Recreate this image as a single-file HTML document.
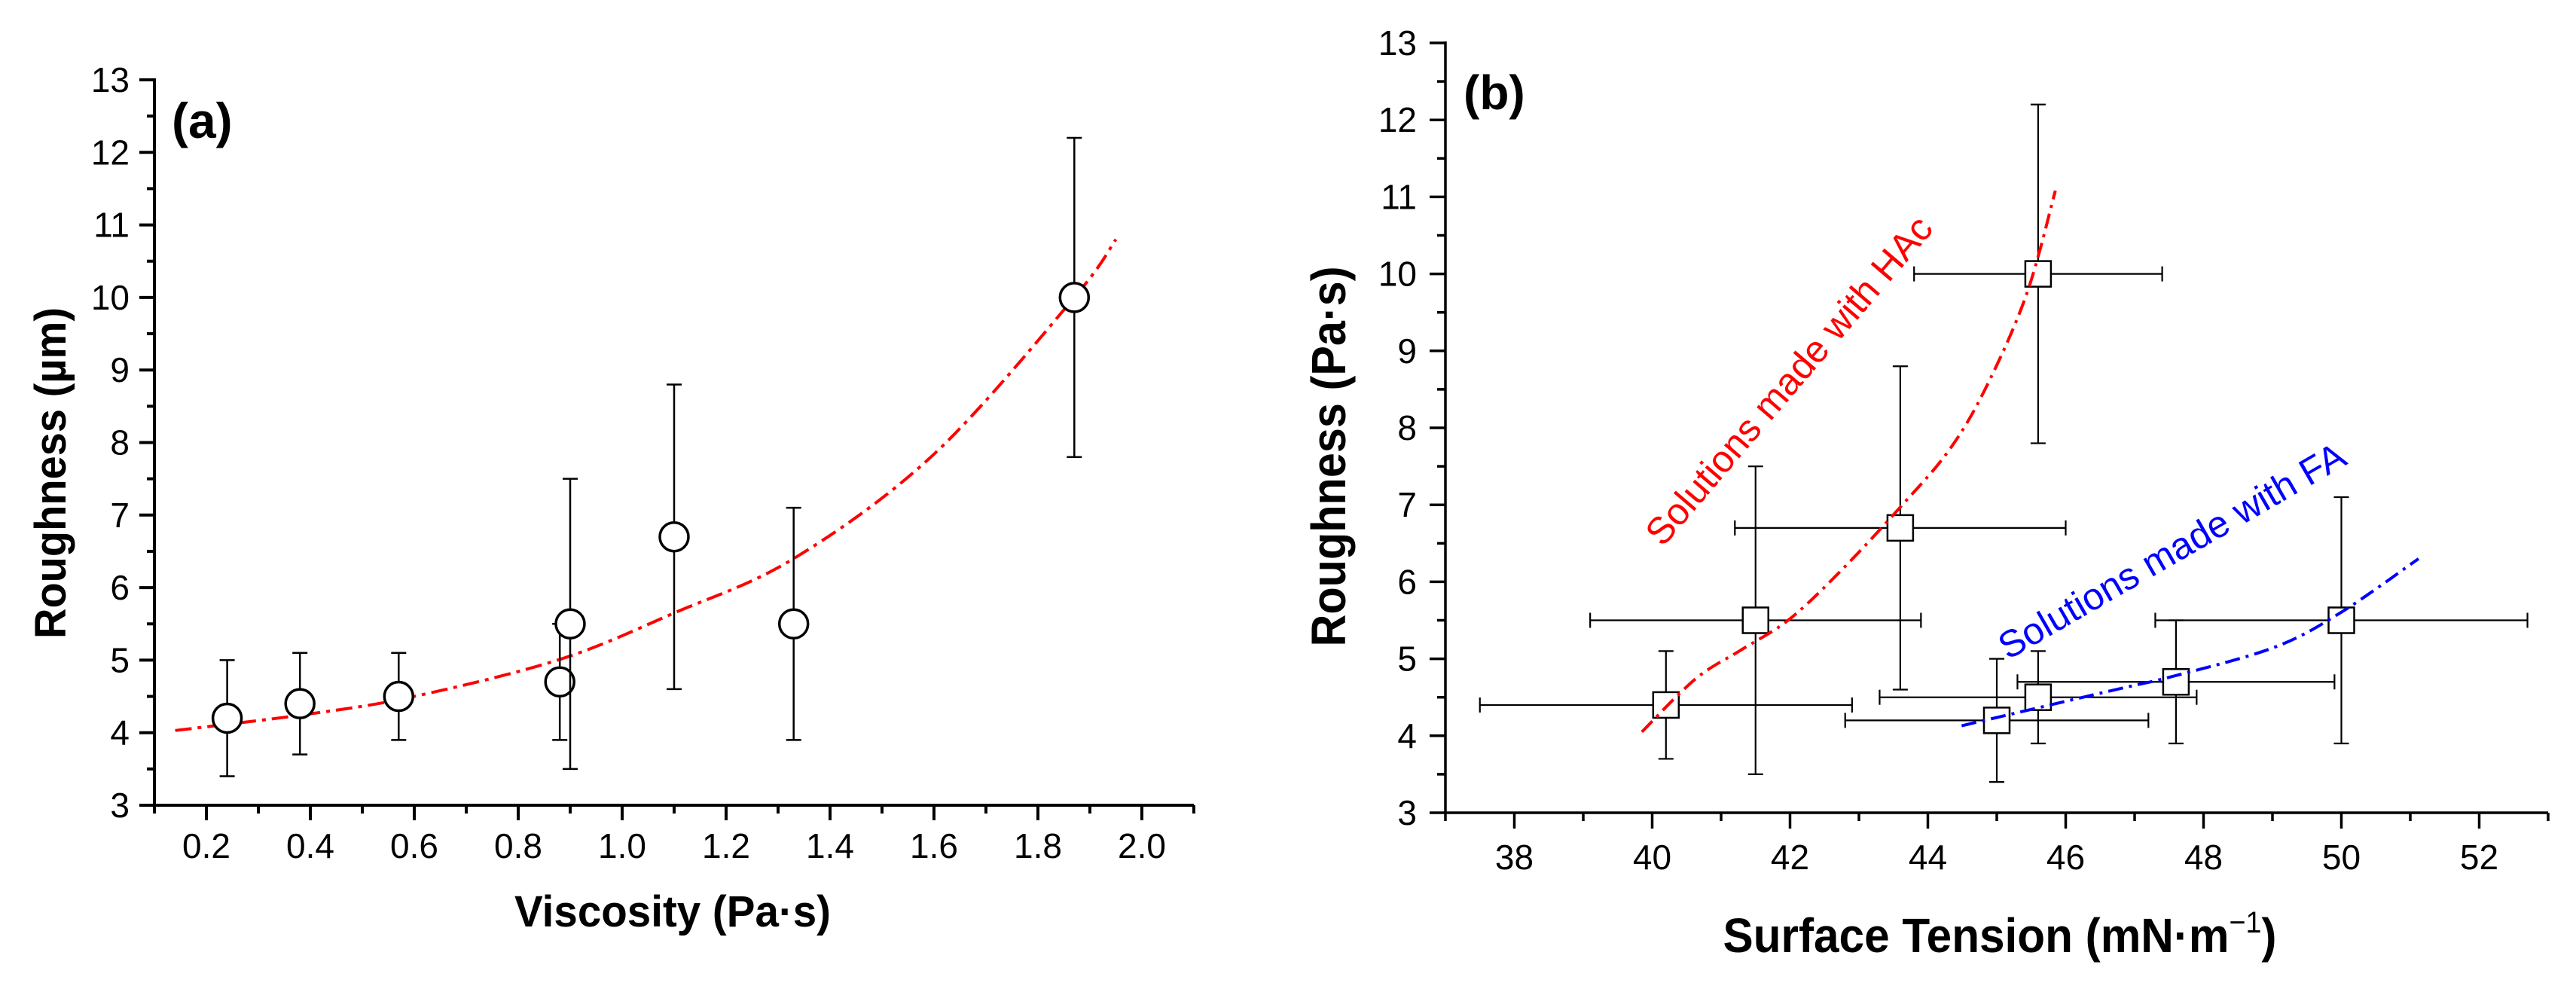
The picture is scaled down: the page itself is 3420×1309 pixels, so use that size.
<!DOCTYPE html>
<html><head><meta charset="utf-8"><style>
html,body{margin:0;padding:0;background:#fff;}
svg{display:block;font-family:"Liberation Sans",Arial,sans-serif;}
</style></head><body>
<svg id="fig" width="3420" height="1309" viewBox="0 0 3420 1309" xmlns="http://www.w3.org/2000/svg">
<rect width="3420" height="1309" fill="#fff"/>
</svg>
<script>
// ---- Panel (a) data ----
const aX = [0.24, 0.38, 0.57, 0.88, 0.90, 1.10, 1.33, 1.87];
const aY = [4.2, 4.4, 4.5, 4.7, 5.5, 6.7, 5.5, 10.0];
const aYLo = [3.4, 3.7, 3.9, 3.9, 3.5, 4.6, 3.9, 7.8];
const aYHi = [5.0, 5.1, 5.1, 5.5, 7.5, 8.8, 7.1, 12.2];
const aFitX = [0.14, 0.4, 0.6, 0.88, 1.1, 1.33, 1.6, 1.87, 1.95];
const aFitY = [4.03, 4.26, 4.50, 5.01, 5.65, 6.40, 7.84, 10.0, 10.8];
const aXTicks = ["0.2","0.4","0.6","0.8","1.0","1.2","1.4","1.6","1.8","2.0"];
const yTicks = ["3","4","5","6","7","8","9","10","11","12","13"];
// ---- Panel (b) data ----
const bX = [40.2, 41.5, 43.6, 45.6, 45.0, 45.6, 47.6, 50.0];
const bY = [4.4, 5.5, 6.7, 10.0, 4.2, 4.5, 4.7, 5.5];
const bYLo = [3.7, 3.5, 4.6, 7.8, 3.4, 3.9, 3.9, 3.9];
const bYHi = [5.1, 7.5, 8.8, 12.2, 5.0, 5.1, 5.5, 7.1];
const bXLo = [37.5, 39.1, 41.2, 43.8, 42.8, 43.3, 45.3, 47.3];
const bXHi = [42.9, 43.9, 46.0, 47.4, 47.2, 47.9, 49.9, 52.7];
const hacFitX = [39.85, 40.63, 41.3, 42.0, 42.8, 43.63, 44.3, 44.83, 45.43, 45.85];
const hacFitY = [4.05, 4.74, 5.12, 5.52, 6.2, 7.0, 7.7, 8.5, 9.73, 11.08];
const faFitX = [44.49, 46.63, 47.59, 49.03, 49.99, 51.12];
const faFitY = [4.13, 4.58, 4.78, 5.15, 5.6, 6.3];
const bXTicks = ["38","40","42","44","46","48","50","52"];

const NS = "http://www.w3.org/2000/svg";
const svg = document.getElementById('fig');
function mk(tag, attrs, parent){
  const e = document.createElementNS(NS, tag);
  for (const k in attrs) e.setAttribute(k, attrs[k]);
  (parent||svg).appendChild(e);
  return e;
}
function smooth(pts){
  let d = "M" + pts[0][0] + "," + pts[0][1];
  for (let i=0;i<pts.length-1;i++){
    const p0=pts[Math.max(0,i-1)], p1=pts[i], p2=pts[i+1], p3=pts[Math.min(pts.length-1,i+2)];
    const c1=[p1[0]+(p2[0]-p0[0])/6, p1[1]+(p2[1]-p0[1])/6];
    const c2=[p2[0]-(p3[0]-p1[0])/6, p2[1]-(p3[1]-p1[1])/6];
    d += " C"+c1[0]+","+c1[1]+" "+c2[0]+","+c2[1]+" "+p2[0]+","+p2[1];
  }
  return d;
}

// ======== Panel A ========
const A = {x0:205, x1:1585, xmin:0.1, xmax:2.1, y0:1069, y1:106, ymin:3, ymax:13};
const axA = v => A.x0 + (v-A.xmin)/(A.xmax-A.xmin)*(A.x1-A.x0);
const ayA = v => A.y0 - (v-A.ymin)/(A.ymax-A.ymin)*(A.y0-A.y1);
const gA = mk('g', {});



let el = mk('line', {x1:A.x0, y1:A.y1-2, x2:A.x0, y2:A.y0+2, stroke:'#000','stroke-width':4}, gA);


el = mk('line', {x1:A.x0-2, y1:A.y0, x2:A.x1, y2:A.y0, stroke:'#000','stroke-width':4}, gA);


for (let i=0;i<yTicks.length;i++){
  const v = +yTicks[i], y = ayA(v);
  mk('line', {x1:A.x0-20, y1:y, x2:A.x0, y2:y, stroke:'#000','stroke-width':4}, gA);
  if (v<13) mk('line', {x1:A.x0-10, y1:ayA(v+0.5), x2:A.x0, y2:ayA(v+0.5), stroke:'#000','stroke-width':4}, gA);
  const t = mk('text', {x:A.x0-33, y:y+16, 'font-size':46, 'text-anchor':'end', fill:'#000'}, gA);
  t.textContent = yTicks[i];
  
  
}
for (let i=0;i<aXTicks.length;i++){
  const v = +aXTicks[i], x = axA(v);
  mk('line', {x1:x, y1:A.y0, x2:x, y2:A.y0+20, stroke:'#000','stroke-width':4}, gA);
  mk('line', {x1:axA(v-0.1), y1:A.y0, x2:axA(v-0.1), y2:A.y0+11, stroke:'#000','stroke-width':4}, gA);
  const t = mk('text', {x:x, y:1139, 'font-size':46, 'text-anchor':'middle', fill:'#000'}, gA);
  t.textContent = aXTicks[i];
  
  
}
mk('line', {x1:axA(2.1), y1:A.y0, x2:axA(2.1), y2:A.y0+11, stroke:'#000','stroke-width':4}, gA);

el = mk('path', {d:smooth(aFitX.map((v,i)=>[axA(v), ayA(aFitY[i])])), fill:'none', stroke:'#ff0000','stroke-width':4,'stroke-dasharray':'22 8 5 8'}, gA);



for (let i=0;i<aX.length;i++){
  const x = axA(aX[i]);
  const eb = mk('g', {stroke:'#000','stroke-width':2.5, fill:'none'}, gA);
  
  
  mk('line', {x1:x, y1:ayA(aYLo[i]), x2:x, y2:ayA(aYHi[i])}, eb);
  mk('line', {x1:x-10, y1:ayA(aYLo[i]), x2:x+10, y2:ayA(aYLo[i])}, eb);
  mk('line', {x1:x-10, y1:ayA(aYHi[i]), x2:x+10, y2:ayA(aYHi[i])}, eb);
  const c = mk('ellipse', {cx:x, cy:ayA(aY[i]), rx:19, ry:19, fill:'#fff', stroke:'#000','stroke-width':3.5}, gA);
  
  
}
el = mk('text', {x:228, y:183, 'font-size':66, 'font-weight':'bold', fill:'#000'}, gA);
el.textContent = '(a)';


el = mk('text', {x:893, y:1230, 'font-size':58, 'font-weight':'bold', 'text-anchor':'middle', textLength:420, lengthAdjust:'spacingAndGlyphs', fill:'#000'}, gA);
el.textContent = 'Viscosity (Pa·s)';


el = mk('text', {x:0, y:0, 'font-size':58, 'font-weight':'bold', 'text-anchor':'middle', textLength:440, lengthAdjust:'spacingAndGlyphs', fill:'#000', transform:'translate(87,628) rotate(-90)'}, gA);
el.textContent = 'Roughness (µm)';



// ======== Panel B ========
const B = {x0:1919, x1:3383, xmin:37, xmax:53, y0:1079, y1:57, ymin:3, ymax:13};
const axB = v => B.x0 + (v-B.xmin)/(B.xmax-B.xmin)*(B.x1-B.x0);
const ayB = v => B.y0 - (v-B.ymin)/(B.ymax-B.ymin)*(B.y0-B.y1);
const gB = mk('g', {});



el = mk('line', {x1:B.x0, y1:B.y1-2, x2:B.x0, y2:B.y0+2, stroke:'#000','stroke-width':3.5}, gB);


el = mk('line', {x1:B.x0-2, y1:B.y0, x2:B.x1, y2:B.y0, stroke:'#000','stroke-width':3.5}, gB);


for (let i=0;i<yTicks.length;i++){
  const v = +yTicks[i], y = ayB(v);
  mk('line', {x1:B.x0-21, y1:y, x2:B.x0, y2:y, stroke:'#000','stroke-width':3.5}, gB);
  if (v<13) mk('line', {x1:B.x0-11, y1:ayB(v+0.5), x2:B.x0, y2:ayB(v+0.5), stroke:'#000','stroke-width':3.5}, gB);
  const t = mk('text', {x:B.x0-38, y:y+16, 'font-size':46, 'text-anchor':'end', fill:'#000'}, gB);
  t.textContent = yTicks[i];
  
  
}
for (let i=0;i<bXTicks.length;i++){
  const v = +bXTicks[i], x = axB(v);
  mk('line', {x1:x, y1:B.y0, x2:x, y2:B.y0+21, stroke:'#000','stroke-width':3.5}, gB);
  mk('line', {x1:axB(v-1), y1:B.y0, x2:axB(v-1), y2:B.y0+11, stroke:'#000','stroke-width':3.5}, gB);
  const t = mk('text', {x:x, y:1154, 'font-size':46, 'text-anchor':'middle', fill:'#000'}, gB);
  t.textContent = bXTicks[i];
  
  
}
mk('line', {x1:axB(53), y1:B.y0, x2:axB(53), y2:B.y0+11, stroke:'#000','stroke-width':3.5}, gB);

for (let i=0;i<bX.length;i++){
  const x = axB(bX[i]), y = ayB(bY[i]);
  const eb = mk('g', {stroke:'#000','stroke-width':2.2, fill:'none'}, gB);
  
  
  mk('line', {x1:x, y1:ayB(bYLo[i]), x2:x, y2:ayB(bYHi[i])}, eb);
  mk('line', {x1:x-10, y1:ayB(bYLo[i]), x2:x+10, y2:ayB(bYLo[i])}, eb);
  mk('line', {x1:x-10, y1:ayB(bYHi[i]), x2:x+10, y2:ayB(bYHi[i])}, eb);
  mk('line', {x1:axB(bXLo[i]), y1:y, x2:axB(bXHi[i]), y2:y}, eb);
  mk('line', {x1:axB(bXLo[i]), y1:y-10, x2:axB(bXLo[i]), y2:y+10}, eb);
  mk('line', {x1:axB(bXHi[i]), y1:y-10, x2:axB(bXHi[i]), y2:y+10}, eb);
}
for (let i=0;i<bX.length;i++){
  const x = axB(bX[i]), y = ayB(bY[i]);
  const r = mk('rect', {x:x-17, y:y-17, width:34, height:34, fill:'#fff', stroke:'#000','stroke-width':2.5}, gB);
  
  
}
el = mk('path', {d:smooth(hacFitX.map((v,i)=>[axB(v), ayB(hacFitY[i])])), fill:'none', stroke:'#ff0000','stroke-width':4,'stroke-dasharray':'20 8 4 8'}, gB);


el = mk('path', {d:smooth(faFitX.map((v,i)=>[axB(v), ayB(faFitY[i])])), fill:'none', stroke:'#0000ff','stroke-width':4,'stroke-dasharray':'20 8 4 8'}, gB);



el = mk('text', {x:0, y:0, 'font-size':50, 'text-anchor':'middle', fill:'#ff0000', transform:'translate(2388,516) rotate(-49.5)'}, gB);
el.textContent = 'Solutions made with HAc';


el = mk('text', {x:0, y:0, 'font-size':50, 'text-anchor':'middle', fill:'#0000ff', transform:'translate(2892,746) rotate(-30)'}, gB);
el.textContent = 'Solutions made with FA';



el = mk('text', {x:1943, y:145, 'font-size':64, 'font-weight':'bold', fill:'#000'}, gB);
el.textContent = '(b)';


el = mk('text', {x:2655, y:1264, 'font-size':64, 'font-weight':'bold', 'text-anchor':'middle', textLength:735, lengthAdjust:'spacingAndGlyphs', fill:'#000'}, gB);
el.innerHTML = 'Surface Tension (mN·m<tspan dy="-26" font-size="40" font-weight="normal">−1</tspan><tspan dy="26">)</tspan>';


el = mk('text', {x:0, y:0, 'font-size':64, 'font-weight':'bold', 'text-anchor':'middle', textLength:505, lengthAdjust:'spacingAndGlyphs', fill:'#000', transform:'translate(1786,606) rotate(-90)'}, gB);
el.textContent = 'Roughness (Pa·s)';


</script>
</body></html>
